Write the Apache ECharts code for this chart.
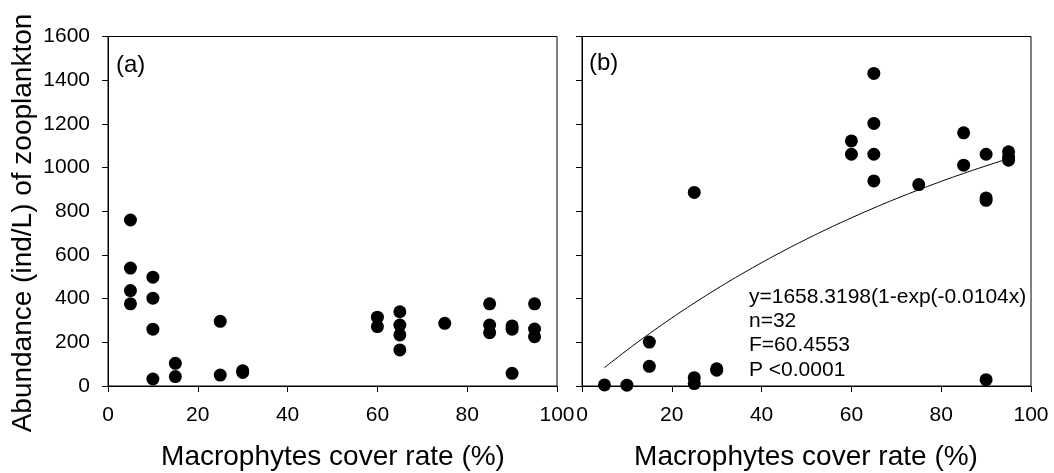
<!DOCTYPE html>
<html>
<head>
<meta charset="utf-8">
<script src="https://cdn.jsdelivr.net/npm/echarts@6/dist/echarts.min.js"></script>
<style>
html,body{margin:0;padding:0;background:#fff;}
#chart{width:1054px;height:473px;}
</style>
</head>
<body>
<div id="chart"></div>
<script>
// Panel (a) data
var aX = [5,5,5,5,10,10,10,10,15,15,25,25,30,30,60,60,65,65,65,65,75,85,85,85,90,90,90,95,95,95];
var aY = [760,540,437,376,498,402,260,32,104,43,296,50,70,62,315,272,340,279,234,165,287,376,279,244,275,260,58,376,261,226];
// Panel (b) data
var bX = [5,10,15,15,25,25,25,30,30,60,60,65,65,65,65,75,85,85,90,90,90,90,95,95,95];
var bY = [5,4,201,90,886,38,11,79,72,1122,1061,1431,1202,1061,939,922,1159,1011,1061,861,850,29,1072,1049,1034];
// Fitted curve in panel (b): y=1658.3198(1-exp(-0.0104x)), values read at x
var fitX = [5,10,15,20,25,30,35,40,45,50,55,60,65,70,75,80,85,90,95];
var fitY = [84.0,163.8,239.5,311.4,379.7,444.5,506.0,564.4,619.8,672.4,722.4,769.8,814.8,857.6,898.1,936.8,973.2,1007.9,1040.9];
// Axis ticks
var xTicks = [0,20,40,60,80,100];
var yTicks = [0,200,400,600,800,1000,1200,1400,1600];
var statLines = ['y=1658.3198(1-exp(-0.0104x)', 'n=32', 'F=60.4553', 'P <0.0001'];

function pairs(xs, ys){ return xs.map(function(x,i){ return [x, ys[i]]; }); }

var FONT = 'Liberation Sans, Arial, sans-serif';
var chart = echarts.init(document.getElementById('chart'), null, {renderer:'canvas'});

function xAxis(idx){
  return {
    type:'value', gridIndex: idx, min: xTicks[0], max: xTicks[xTicks.length-1], interval: 20,
    axisLine:{show:true, lineStyle:{color:'#000', width:1}},
    axisTick:{show:true, inside:false, length:6, lineStyle:{color:'#000'}},
    axisLabel:{show:true, color:'#000', fontSize:21, fontFamily:FONT, margin:19, showMaxLabel:true, showMinLabel:true,
      formatter:function(v){ return String(v); }},
    splitLine:{show:false}
  };
}
function yAxis(idx, labels){
  return {
    type:'value', gridIndex: idx, min: yTicks[0], max: yTicks[yTicks.length-1], interval: 200,
    axisLine:{show:true, lineStyle:{color:'#000', width:1}},
    axisTick:{show:true, inside:false, length:6, lineStyle:{color:'#000'}},
    axisLabel:{show:labels, color:'#000', fontSize:21, fontFamily:FONT, margin:18,
      formatter:function(v){ return String(v); }},
    splitLine:{show:false}
  };
}

var graphics = [
  {type:'text', x:23, y:223, rotation:Math.PI/2,
   style:{text:'Abundance (ind/L) of zooplankton', fill:'#000', font:'28px ' + FONT, align:'center', verticalAlign:'middle'}},
  {type:'text', x:333, y:457,
   style:{text:'Macrophytes cover rate (%)', fill:'#000', font:'28px ' + FONT, align:'center', verticalAlign:'middle'}},
  {type:'text', x:806, y:457,
   style:{text:'Macrophytes cover rate (%)', fill:'#000', font:'28px ' + FONT, align:'center', verticalAlign:'middle'}},
  {type:'text', x:116, y:65,
   style:{text:'(a)', fill:'#000', font:'24px ' + FONT, align:'left', verticalAlign:'middle'}},
  {type:'text', x:589, y:63,
   style:{text:'(b)', fill:'#000', font:'24px ' + FONT, align:'left', verticalAlign:'middle'}}
];
statLines.forEach(function(t, i){
  graphics.push({type:'text', x:749, y:297 + i*24.3,
    style:{text:t, fill:'#000', font:'21px ' + FONT, align:'left', verticalAlign:'middle'}});
});

chart.setOption({
  animation:false,
  backgroundColor:'#fff',
  grid:[
    {left:108, top:36.5, width:449, height:349.5, show:true, borderColor:'#000', borderWidth:1, backgroundColor:'transparent'},
    {left:582, top:36.5, width:449, height:349.5, show:true, borderColor:'#000', borderWidth:1, backgroundColor:'transparent'}
  ],
  xAxis:[xAxis(0), xAxis(1)],
  yAxis:[yAxis(0, true), yAxis(1, false)],
  series:[
    {type:'scatter', xAxisIndex:0, yAxisIndex:0, data:pairs(aX, aY), symbol:'circle', symbolSize:13,
     itemStyle:{color:'#000', opacity:1}},
    {type:'line', xAxisIndex:1, yAxisIndex:1, data:pairs(fitX, fitY), showSymbol:false, smooth:true,
     lineStyle:{color:'#000', width:1}},
    {type:'scatter', xAxisIndex:1, yAxisIndex:1, data:pairs(bX, bY), symbol:'circle', symbolSize:13,
     itemStyle:{color:'#000', opacity:1}}
  ],
  graphic: graphics
});
</script>
</body>
</html>
